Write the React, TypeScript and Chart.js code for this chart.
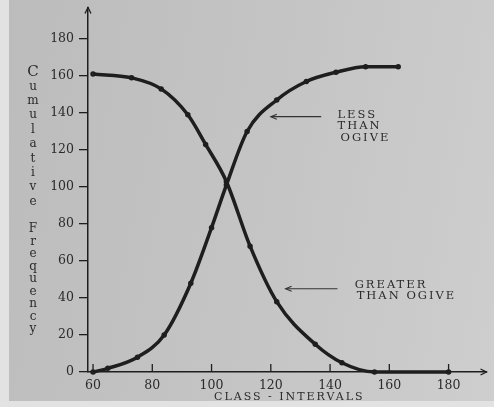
import React, { useEffect, useRef } from "react";
import { Chart, registerables } from "chart.js";

Chart.register(...registerables);

// ---- data ----
const xTicks = [60, 80, 100, 120, 140, 160, 180];
const yTicks = [0, 20, 40, 60, 80, 100, 120, 140, 160, 180];

const lessThanX = [60, 65, 75, 84, 93, 100, 105, 112, 122, 132, 142, 152, 163];
const lessThanY = [0, 2, 8, 20, 48, 78, 101, 130, 147, 157, 162, 165, 165];

const greaterThanX = [60, 73, 83, 92, 98, 105, 113, 122, 135, 144, 155, 180];
const greaterThanY = [161, 159, 153, 139, 123, 103, 68, 38, 15, 5, 0, 0];

const yTitleWords = ["Cumulative", "Frequency"];
const xTitle = "CLASS - INTERVALS";
const lessLabel = ["LESS", "THAN", "OGIVE"];
const greaterLabel = ["GREATER", "THAN OGIVE"];

// annotation anchors (data coordinates)
const lessTextAt = { x: 142.5, y: 139 };
const lessArrow = { x1: 137, x2: 120, y: 138 };
const greaterTextAt = { x: 148.3, y: 47 };
const greaterArrow = { x1: 142.5, x2: 125, y: 45 };

const INK = "#1e1e1e";
const TEXT = "#2b2b2b";
const SERIF = "'DejaVu Serif', serif";

const overlay = {
  id: "overlay",
  afterDraw(chart: any) {
    const { ctx, chartArea } = chart;
    const xs = chart.scales.x;
    const ys = chart.scales.y;
    ctx.save();
    ctx.strokeStyle = INK;
    ctx.fillStyle = INK;
    ctx.lineWidth = 1.3;

    // x tick marks (pointing up)
    xTicks.forEach((v) => {
      const px = xs.getPixelForValue(v);
      ctx.beginPath();
      ctx.moveTo(px, chartArea.bottom);
      ctx.lineTo(px, chartArea.bottom - 8);
      ctx.stroke();
    });

    // arrow heads
    ctx.beginPath();
    ctx.moveTo(chartArea.left - 3, chartArea.top + 6);
    ctx.lineTo(chartArea.left, chartArea.top);
    ctx.lineTo(chartArea.left + 3, chartArea.top + 6);
    ctx.stroke();
    ctx.beginPath();
    ctx.moveTo(chartArea.right - 6, chartArea.bottom - 3);
    ctx.lineTo(chartArea.right, chartArea.bottom);
    ctx.lineTo(chartArea.right - 6, chartArea.bottom + 3);
    ctx.stroke();

    // y title: stacked letters
    ctx.fillStyle = TEXT;
    ctx.textAlign = "center";
    ctx.textBaseline = "middle";
    const starts = [72, 229];
    const steps = [14.4, 12.5];
    yTitleWords.forEach((w, wi) => {
      w.split("").forEach((ch, i) => {
        ctx.font = (wi === 0 && i === 0 ? "15px " : "12px ") + SERIF;
        ctx.fillText(ch, 33, starts[wi] + i * steps[wi]);
      });
    });

    // x title
    ctx.font = "11px " + SERIF;
    (ctx as any).letterSpacing = "2px";
    ctx.fillText(xTitle, (chartArea.left + chartArea.right) / 2 + 2, 397);

    // annotations
    ctx.font = "11.5px " + SERIF;
    (ctx as any).letterSpacing = "2px";
    ctx.textAlign = "left";
    lessLabel.forEach((t, i) => {
      ctx.fillText(t, xs.getPixelForValue(lessTextAt.x) + (i === 2 ? 3 : 0), ys.getPixelForValue(lessTextAt.y) + i * 11.5);
    });
    greaterLabel.forEach((t, i) => {
      ctx.fillText(t, xs.getPixelForValue(greaterTextAt.x) + i * 2, ys.getPixelForValue(greaterTextAt.y) + i * 11);
    });
    (ctx as any).letterSpacing = "0px";

    const drawArrow = (a: any) => {
      const x1 = xs.getPixelForValue(a.x1);
      const x2 = xs.getPixelForValue(a.x2);
      const y = ys.getPixelForValue(a.y);
      ctx.strokeStyle = "#333";
      ctx.lineWidth = 1.1;
      ctx.beginPath();
      ctx.moveTo(x1, y);
      ctx.lineTo(x2, y);
      ctx.stroke();
      ctx.beginPath();
      ctx.moveTo(x2 + 6, y - 2.5);
      ctx.lineTo(x2, y);
      ctx.lineTo(x2 + 6, y + 2.5);
      ctx.stroke();
    };
    drawArrow(lessArrow);
    drawArrow(greaterArrow);
    ctx.restore();
  },
};

export default function App() {
  const ref = useRef<HTMLCanvasElement | null>(null);

  useEffect(() => {
    document.body.style.margin = "0";
    if (!ref.current) return;
    const chart = new Chart(ref.current, {
      type: "line",
      data: {
        datasets: [
          {
            label: "Less than ogive",
            data: lessThanX.map((x, i) => ({ x, y: lessThanY[i] })),
            borderColor: INK,
            backgroundColor: INK,
            borderWidth: 3.5,
            pointRadius: 1,
            cubicInterpolationMode: "monotone",
            clip: false as any,
          },
          {
            label: "Greater than ogive",
            data: greaterThanX.map((x, i) => ({ x, y: greaterThanY[i] })),
            borderColor: INK,
            backgroundColor: INK,
            borderWidth: 3.5,
            pointRadius: 1,
            cubicInterpolationMode: "monotone",
            clip: false as any,
          },
        ],
      },
      options: {
        animation: false,
        responsive: false,
        devicePixelRatio: 1,
        layout: { padding: 0 },
        plugins: { legend: { display: false }, tooltip: { enabled: false } },
        scales: {
          x: {
            type: "linear",
            min: 58.3,
            max: 192.8,
            afterBuildTicks: (s: any) => {
              s.ticks = xTicks.map((v) => ({ value: v }));
            },
            afterFit: (s: any) => {
              s.height = 35;
              s.paddingLeft = 0;
              s.paddingRight = 0;
            },
            grid: { display: false, drawTicks: false },
            border: { display: true, color: INK, width: 1.5 },
            ticks: {
              padding: 6,
              autoSkip: false,
              maxRotation: 0,
              color: TEXT,
              font: { family: SERIF, size: 12.5 },
            },
          },
          y: {
            type: "linear",
            min: 0,
            max: 197,
            afterBuildTicks: (s: any) => {
              s.ticks = yTicks.map((v) => ({ value: v }));
            },
            afterFit: (s: any) => {
              s.width = 88;
              s.paddingTop = 0;
              s.paddingBottom = 0;
            },
            grid: { drawOnChartArea: false, tickLength: 9, color: INK, lineWidth: 1.3 },
            border: { display: true, color: INK, width: 1.5 },
            ticks: {
              padding: 5,
              autoSkip: false,
              color: TEXT,
              font: { family: SERIF, size: 12.5 },
            },
          },
        },
      },
      plugins: [overlay],
    });
    return () => chart.destroy();
  }, []);

  return (
    <div
      style={{
        position: "relative",
        width: 494,
        height: 407,
        background: "#e2e2e2",
        overflow: "hidden",
      }}
    >
      <div
        style={{
          position: "absolute",
          left: 9,
          top: 0,
          width: 485,
          height: 401,
          background: "linear-gradient(100deg, #bcbcbc 0%, #c4c4c4 50%, #cecece 100%)",
        }}
      />
      <canvas
        ref={ref}
        width={494}
        height={407}
        style={{ position: "absolute", left: 0, top: 0, display: "block" }}
      />
    </div>
  );
}
